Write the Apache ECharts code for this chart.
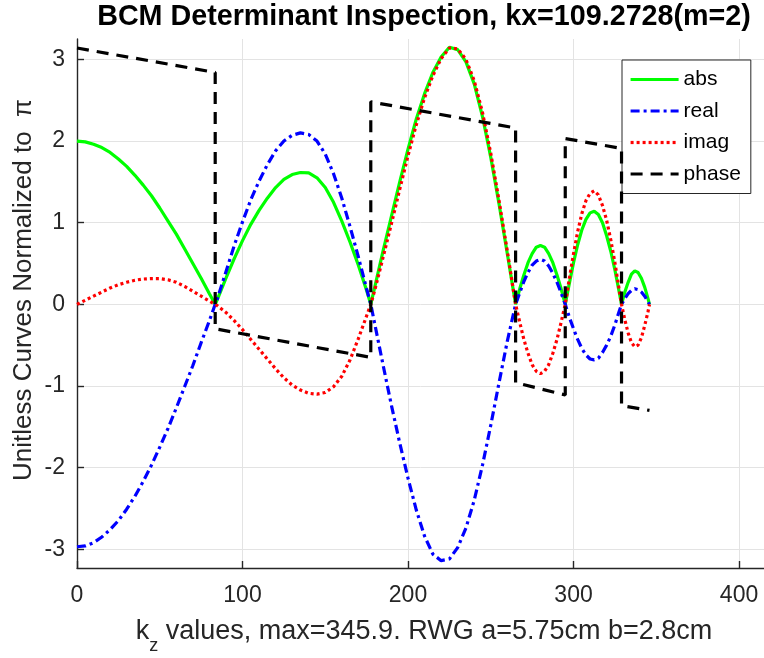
<!DOCTYPE html>
<html>
<head>
<meta charset="utf-8">
<script src="https://cdn.jsdelivr.net/npm/echarts@6/dist/echarts.min.js"></script>
<style>
html,body{margin:0;padding:0;background:#fff;}
#chart{width:764px;height:658px;}
</style>
</head>
<body>
<div id="chart"></div>
<script>
// ---- data ----
const kz = [
  0,5,10,15,20,25,30,35,40,45,50,55,60,65,70,75,80,83.5,
  85,90,95,100,105,110,115,120,125,130,135,140,145,150,155,160,165,170,175,177.5,
  180,185,190,195,200,205,210,215,220,225,230,235,240,245,250,255,260,265,
  267.5,270,272.5,275,277.5,280,282.5,285,287.5,290,292.5,295,
  297.5,300,302.5,305,307.5,310,312.5,315,317.5,320,322.5,325,327.5,329,
  331,333,335,337,339,341,343,345,345.9
];
const absVals = [
  2.00,1.99,1.96,1.92,1.86,1.78,1.69,1.58,1.46,1.33,1.18,1.02,0.86,0.68,0.50,0.32,0.13,0.00,
  0.07,0.32,0.56,0.78,0.98,1.15,1.30,1.43,1.53,1.59,1.615,1.61,1.55,1.43,1.25,1.02,0.76,0.48,0.17,0.00,
  0.22,0.66,1.08,1.50,1.90,2.27,2.58,2.84,3.03,3.15,3.12,2.97,2.70,2.30,1.80,1.23,0.62,0.00,
  0.19,0.36,0.51,0.62,0.70,0.72,0.70,0.62,0.51,0.36,0.19,0.00,
  0.26,0.51,0.73,0.91,1.04,1.12,1.14,1.10,1.00,0.84,0.65,0.42,0.16,0.00,
  0.15,0.27,0.37,0.41,0.39,0.32,0.21,0.07,0.00
];
const realVals = [
  -2.97,-2.96,-2.92,-2.85,-2.76,-2.65,-2.51,-2.35,-2.17,-1.97,-1.75,-1.52,-1.27,-1.01,-0.75,-0.47,-0.20,0.00,
  0.08,0.40,0.72,1.01,1.28,1.51,1.71,1.88,2.00,2.07,2.10,2.08,2.00,1.84,1.60,1.30,0.95,0.58,0.19,0.00,
  -0.25,-0.75,-1.24,-1.70,-2.13,-2.52,-2.84,-3.06,-3.14,-3.12,-2.98,-2.74,-2.40,-1.97,-1.48,-0.96,-0.45,0.00,
  0.14,0.28,0.39,0.48,0.53,0.55,0.53,0.47,0.38,0.27,0.14,0.00,
  -0.16,-0.30,-0.43,-0.54,-0.62,-0.67,-0.68,-0.66,-0.59,-0.50,-0.39,-0.25,-0.09,0.00,
  0.07,0.13,0.17,0.19,0.18,0.15,0.10,0.03,0.00
];
const imagVals = [
  0.00,0.05,0.10,0.15,0.20,0.24,0.27,0.295,0.31,0.315,0.315,0.30,0.27,0.22,0.16,0.10,0.04,0.00,
  -0.02,-0.10,-0.20,-0.31,-0.43,-0.55,-0.67,-0.79,-0.90,-0.99,-1.05,-1.09,-1.10,-1.08,-1.01,-0.88,-0.68,-0.42,-0.14,0.00,
  0.18,0.58,0.99,1.41,1.82,2.20,2.53,2.80,3.01,3.14,3.13,3.00,2.74,2.35,1.85,1.27,0.65,0.00,
  -0.22,-0.43,-0.60,-0.74,-0.82,-0.85,-0.82,-0.74,-0.60,-0.43,-0.22,0.00,
  0.32,0.62,0.89,1.11,1.27,1.36,1.39,1.34,1.21,1.03,0.79,0.51,0.19,0.00,
  -0.19,-0.35,-0.47,-0.52,-0.50,-0.41,-0.26,-0.09,0.00
];
const phaseKz   = [0, 83.5, 83.5, 177.5, 177.5, 265, 265, 295, 295, 329, 329, 345.9];
const phaseVals = [3.14, 2.84, -0.30, -0.65, 2.48, 2.16, -0.96, -1.11, 2.03, 1.91, -1.24, -1.30];

const xTicks = [0, 100, 200, 300, 400];
const yTicks = [-3, -2, -1, 0, 1, 2, 3];
const seriesNames = ['abs', 'real', 'imag', 'phase'];

const titleText = 'BCM Determinant Inspection, kx=109.2728(m=2)';
const xLabelMain = ' values, max=345.9. RWG a=5.75cm b=2.8cm';
const yLabelText = 'Unitless Curves Normalized to  \u03c0';

// ---- chart ----
const zip = (xs, ys) => xs.map((x, i) => [x, ys[i]]);
const FONT = '"Liberation Sans", Arial, sans-serif';
const chart = echarts.init(document.getElementById('chart'), null, {renderer: 'canvas'});

const option = {
  animation: false,
  backgroundColor: '#ffffff',
  grid: {left: 77, right: 0, top: 39, bottom: 90, containLabel: false},
  xAxis: {
    type: 'value', min: 0, max: 415.08, interval: 100,
    axisLine: {show: true, onZero: false, lineStyle: {color: '#262626', width: 1.4}},
    axisTick: {show: true, inside: true, length: 7, lineStyle: {color: '#262626', width: 1.4}},
    axisLabel: {color: '#262626', fontSize: 23, fontFamily: FONT, margin: 16, showMaxLabel: false,
      formatter: v => xTicks.includes(v) ? String(v) : ''},
    splitLine: {show: true, showMaxLine: false, lineStyle: {color: '#e3e3e3', width: 1}}
  },
  yAxis: {
    type: 'value', min: -3.23, max: 3.25,
    axisLine: {show: true, onZero: false, lineStyle: {color: '#262626', width: 1.4}},
    axisTick: {show: true, inside: true, length: 7, lineStyle: {color: '#262626', width: 1.4}},
    axisLabel: {color: '#262626', fontSize: 23, fontFamily: FONT, margin: 12,
      showMinLabel: false, showMaxLabel: false,
      formatter: v => yTicks.includes(v) ? String(v) : ''},
    splitLine: {show: true, showMinLine: false, showMaxLine: false, lineStyle: {color: '#e3e3e3', width: 1}}
  },
  legend: {
    data: seriesNames,
    orient: 'vertical', left: 622, top: 60,
    itemWidth: 48, itemHeight: 20, itemGap: 10.5,
    padding: [9, 10, 9, 7],
    backgroundColor: '#ffffff', borderColor: '#262626', borderWidth: 1, borderRadius: 0,
    textStyle: {color: '#000', fontSize: 21, fontFamily: FONT},
    itemStyle: {opacity: 0},
    lineStyle: {width: 3.2},
    selectedMode: false
  },
  graphic: [
    {type: 'text', x: 424, y: 17, style: {text: titleText, font: 'bold 28.7px ' + FONT, fill: '#000', align: 'center', verticalAlign: 'middle'}},
    {type: 'text', x: 424, y: 632, style: {
      text: '{k|k}{z|z}{m|' + xLabelMain + '}', align: 'center', verticalAlign: 'middle',
      rich: {
        k: {fontSize: 27, fontFamily: FONT, fill: '#262626', lineHeight: 30, verticalAlign: 'middle'},
        z: {fontSize: 18, fontFamily: FONT, fill: '#262626', lineHeight: 30, verticalAlign: 'bottom', padding: [0, 0, -8, 0]},
        m: {fontSize: 27, fontFamily: FONT, fill: '#262626', lineHeight: 30, verticalAlign: 'middle'}
      }}},
    {type: 'text', x: 24, y: 290, rotation: Math.PI / 2, style: {text: yLabelText, font: '26px ' + FONT, fill: '#262626', align: 'center', verticalAlign: 'middle'}}
  ],
  series: [
    {name: 'abs', type: 'line', data: zip(kz, absVals), symbol: 'none', z: 2,
      lineStyle: {color: '#00ff00', width: 3.2, type: 'solid'}, itemStyle: {color: '#00ff00'}},
    {name: 'real', type: 'line', data: zip(kz, realVals), symbol: 'none', z: 3,
      lineStyle: {color: '#0000ff', width: 3.2, type: [9, 4, 3, 4]}, itemStyle: {color: '#0000ff'}},
    {name: 'imag', type: 'line', data: zip(kz, imagVals), symbol: 'none', z: 4,
      lineStyle: {color: '#ff0000', width: 3.2, type: [3, 3]}, itemStyle: {color: '#ff0000'}},
    {name: 'phase', type: 'line', data: zip(phaseKz, phaseVals), symbol: 'none', z: 5,
      lineStyle: {color: '#000000', width: 3.2, type: [12, 8]}, itemStyle: {color: '#000000'}}
  ]
};
chart.setOption(option);
</script>
</body>
</html>
